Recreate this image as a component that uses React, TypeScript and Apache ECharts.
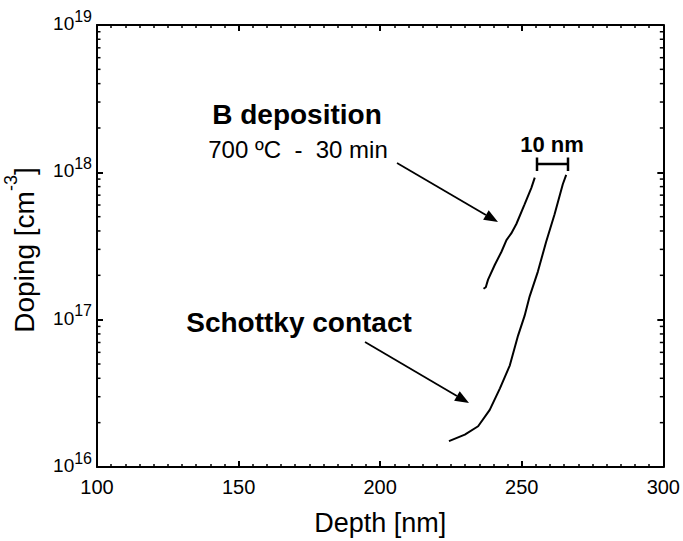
import React, { useEffect, useRef } from "react";
import * as echarts from "echarts";

// B deposition profile (700 ºC - 30 min)
const depthB = [236.5, 237.3, 238.1, 240.5, 242.8, 244.6, 246.3, 248.1, 251.0, 253.4, 254.6];
const dopingB = [1.62e17, 1.66e17, 1.87e17, 2.36e17, 2.88e17, 3.47e17, 3.85e17, 4.46e17, 6.07e17, 7.85e17, 9.2e17];

// Schottky contact profile
const depthS = [224.3, 229.9, 234.6, 238.7, 242.3, 245.8, 248.7, 251.0, 252.8, 255.7, 258.6, 261.6, 264.5, 265.7];
const dopingS = [1.5e16, 1.66e16, 1.89e16, 2.44e16, 3.42e16, 4.9e16, 7.8e16, 1.06e17, 1.44e17, 2.12e17, 3.37e17, 5.2e17, 8.3e17, 9.6e17];

// Axis ranges
const xMin = 100;
const xMax = 300;
const xStep = 50;
const yMin = 1e16;
const yMax = 1e19;
const decades = [16, 17, 18];
const minorMultipliers = [2, 3, 4, 5, 6, 7, 8, 9];

const FONT = "'Liberation Sans', Arial, sans-serif";

function arrow(x1: number, y1: number, x2: number, y2: number) {
  const dx = x2 - x1;
  const dy = y2 - y1;
  const len = Math.sqrt(dx * dx + dy * dy);
  const ux = dx / len;
  const uy = dy / len;
  const hl = 14;
  const hw = 5.5;
  const bx = x2 - ux * hl;
  const by = y2 - uy * hl;
  return [
    {
      type: "line",
      shape: { x1, y1, x2: bx, y2: by },
      style: { stroke: "#000", lineWidth: 1.8 },
    },
    {
      type: "polygon",
      shape: {
        points: [
          [x2, y2],
          [bx - uy * hw, by + ux * hw],
          [bx + uy * hw, by - ux * hw],
        ],
      },
      style: { fill: "#000" },
    },
  ];
}

export default function App() {
  const ref = useRef<HTMLDivElement>(null);
  useEffect(() => {
    if (!ref.current) return;
    const chart = echarts.init(ref.current, null, { renderer: "svg" });
    const minorTicks: number[][] = [];
    decades.forEach((d) =>
      minorMultipliers.forEach((m) => minorTicks.push([xMin, m * Math.pow(10, d)]))
    );
    const yLabelRich = {
      b: { fontFamily: FONT, fontSize: 19, color: "#000", lineHeight: 19, verticalAlign: "middle", padding: [0, 0, 3, 0] },
      s: { fontFamily: FONT, fontSize: 16, color: "#000", lineHeight: 34, verticalAlign: "top" },
    };
    const axisLine = { show: true, lineStyle: { color: "#000", width: 2 } };
    chart.setOption({
      animation: false,
      backgroundColor: "#fff",
      grid: { left: 97, right: 17, top: 25, bottom: 68, containLabel: false },
      xAxis: [
        {
          type: "value",
          min: xMin,
          max: xMax,
          interval: xStep,
          position: "bottom",
          axisLine,
          axisTick: { show: true, inside: true, length: 6, lineStyle: { color: "#000", width: 2 } },
          minorTick: { show: true, splitNumber: 10, length: 3, lineStyle: { color: "#000", width: 1.5 } },
          splitLine: { show: false },
          axisLabel: { fontFamily: FONT, fontSize: 20, color: "#000", margin: 10 },
          name: "Depth [nm]",
          nameLocation: "middle",
          nameGap: 42,
          nameTextStyle: { fontFamily: FONT, fontSize: 27, color: "#000" },
        },
        {
          type: "value",
          min: xMin,
          max: xMax,
          interval: xStep,
          position: "top",
          axisLine,
          axisTick: { show: true, inside: true, length: 6, lineStyle: { color: "#000", width: 2 } },
          minorTick: { show: true, splitNumber: 10, length: 3, lineStyle: { color: "#000", width: 1.5 } },
          splitLine: { show: false },
          axisLabel: { show: false },
        },
      ],
      yAxis: [
        {
          type: "log",
          logBase: 10,
          min: yMin,
          max: yMax,
          position: "left",
          axisLine,
          axisTick: { show: true, inside: true, length: 6, lineStyle: { color: "#000", width: 2 } },
          splitLine: { show: false },
          axisLabel: {
            margin: 5,
            formatter: (v: number) => `{b|10}{s|${Math.round(Math.log10(v))}}`,
            rich: yLabelRich,
          },
        },
        {
          type: "log",
          logBase: 10,
          min: yMin,
          max: yMax,
          position: "right",
          axisLine,
          axisTick: { show: true, inside: true, length: 6, lineStyle: { color: "#000", width: 2 } },
          splitLine: { show: false },
          axisLabel: { show: false },
        },
      ],
      series: [
        {
          type: "line",
          name: "B deposition",
          data: depthB.map((x, i) => [x, dopingB[i]]),
          showSymbol: false,
          symbol: "none",
          lineStyle: { color: "#000", width: 2 },
          xAxisIndex: 0,
          yAxisIndex: 0,
        },
        {
          type: "line",
          name: "Schottky contact",
          data: depthS.map((x, i) => [x, dopingS[i]]),
          showSymbol: false,
          symbol: "none",
          lineStyle: { color: "#000", width: 2 },
          xAxisIndex: 0,
          yAxisIndex: 0,
        },
        {
          type: "custom",
          name: "minor",
          xAxisIndex: 0,
          yAxisIndex: 0,
          data: minorTicks,
          encode: { x: 0, y: 1 },
          clip: false,
          silent: true,
          renderItem: (params: any, api: any) => {
            const cs = params.coordSys;
            const y = api.coord([api.value(0), api.value(1)])[1];
            return {
              type: "group",
              children: [
                {
                  type: "line",
                  shape: { x1: cs.x, y1: y, x2: cs.x + 3.5, y2: y },
                  style: { stroke: "#000", lineWidth: 1.5 },
                },
                {
                  type: "line",
                  shape: { x1: cs.x + cs.width - 3.5, y1: y, x2: cs.x + cs.width, y2: y },
                  style: { stroke: "#000", lineWidth: 1.5 },
                },
              ],
            };
          },
        },
      ],
      graphic: [
        {
          type: "text",
          x: 24,
          y: 250,
          rotation: Math.PI / 2,
          style: {
            text: "{a|Doping [cm}{s|-3}{a|]}",
            align: "center",
            verticalAlign: "middle",
            rich: {
              a: { fontFamily: FONT, fontSize: 28, fill: "#000", lineHeight: 28, verticalAlign: "middle" },
              s: { fontFamily: FONT, fontSize: 18, fill: "#000", lineHeight: 44, verticalAlign: "top" },
            },
          },
        },
        {
          type: "text",
          x: 297,
          y: 114,
          style: {
            text: "B deposition",
            fontFamily: FONT,
            fontSize: 28,
            fontWeight: "bold",
            fill: "#000",
            align: "center",
            verticalAlign: "middle",
          },
        },
        {
          type: "text",
          x: 298,
          y: 149,
          style: {
            text: "700 ºC  -  30 min",
            fontFamily: FONT,
            fontSize: 24,
            fill: "#000",
            align: "center",
            verticalAlign: "middle",
          },
        },
        {
          type: "text",
          x: 299,
          y: 322,
          style: {
            text: "Schottky contact",
            fontFamily: FONT,
            fontSize: 28,
            fontWeight: "bold",
            fill: "#000",
            align: "center",
            verticalAlign: "middle",
          },
        },
        {
          type: "text",
          x: 552,
          y: 144,
          style: {
            text: "10 nm",
            fontFamily: FONT,
            fontSize: 22,
            fontWeight: "bold",
            fill: "#000",
            align: "center",
            verticalAlign: "middle",
          },
        },
        {
          type: "line",
          shape: { x1: 537, y1: 164, x2: 568, y2: 164 },
          style: { stroke: "#000", lineWidth: 2.5 },
        },
        {
          type: "line",
          shape: { x1: 537, y1: 157.5, x2: 537, y2: 171 },
          style: { stroke: "#000", lineWidth: 2.5 },
        },
        {
          type: "line",
          shape: { x1: 568, y1: 157.5, x2: 568, y2: 171 },
          style: { stroke: "#000", lineWidth: 2.5 },
        },
        ...arrow(397, 163, 498, 222),
        ...arrow(365, 342, 469, 403),
      ],
    });
    return () => chart.dispose();
  }, []);
  return (
    <div
      ref={ref}
      style={{ position: "absolute", left: 0, top: 0, width: 683, height: 541, background: "#fff" }}
    />
  );
}
